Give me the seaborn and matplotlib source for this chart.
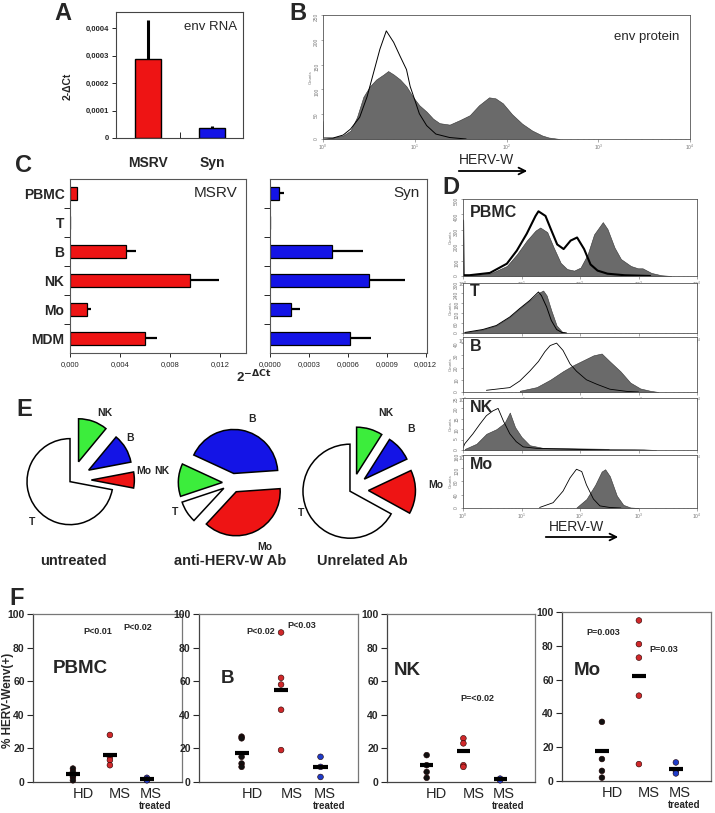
import numpy as np
import pandas as pd
import matplotlib
matplotlib.use("Agg")
import matplotlib.pyplot as plt
import seaborn as sns
from matplotlib.ticker import FixedLocator, FixedFormatter
from matplotlib.patches import FancyArrowPatch

sns.set_style("white")
plt.rcParams['font.family'] = ['Liberation Sans', 'DejaVu Sans']
plt.rcParams['mathtext.fontset'] = 'dejavusans'

W, H = 715, 813

# ---------------- DATA ----------------
# Panel A
A_cats = ["MSRV", "Syn"]
A_vals = [0.00029, 0.000035]
A_err_top = [0.00043, 0.000042]
A_yticks = [0, 0.0001, 0.0002, 0.0003, 0.0004]
A_yticklabels = ["0", "0,0001", "0,0002", "0,0003", "0,0004"]

# Panel B (flow histogram, log10 fluorescence vs counts)
B_fill_log = [0.0, 0.115, 0.22, 0.30, 0.37, 0.44, 0.51, 0.58, 0.66, 0.71, 0.77, 0.84, 0.91, 0.98,
              1.05, 1.13, 1.20, 1.27, 1.38, 1.49, 1.60, 1.70, 1.81, 1.88, 1.96, 2.06, 2.17, 2.28,
              2.39, 2.46, 2.58]
B_fill_cnt = [0, 3, 7, 17, 44, 85, 106, 120, 130, 137, 130, 120, 106, 85,
              68, 55, 41, 32, 29, 38, 48, 68, 84, 82, 72, 50, 31, 17,
              7, 3, 0]
B_open_log = [0.0, 0.005, 0.11, 0.22, 0.30, 0.40, 0.48, 0.55, 0.62, 0.69, 0.77, 0.84, 0.91, 0.95,
              1.0, 1.05, 1.13, 1.23, 1.38, 1.56]
B_open_cnt = [35, 2, 2, 8, 20, 44, 85, 133, 181, 218, 195, 167, 140, 106,
              79, 51, 27, 10, 3, 0]
B_yticks = [0, 50, 100, 150, 200, 250]

# Panel C
C_cats = ["PBMC", "T", "B", "NK", "Mo", "MDM"]
C_msrv = [0.0006, 0.0, 0.0045, 0.00965, 0.0014, 0.006]
C_msrv_err = [0.00066, 0.0, 0.0053, 0.0119, 0.00165, 0.007]
C_syn = [0.00007, 0.0, 0.00048, 0.00076, 0.00016, 0.00062]
C_syn_err = [0.00011, 0.0, 0.00072, 0.00104, 0.00023, 0.00078]
C_msrv_ticks = [0, 0.004, 0.008, 0.012]
C_msrv_ticklabels = ["0,000", "0,004", "0,008", "0,012"]
C_syn_ticks = [0, 0.0003, 0.0006, 0.0009, 0.0012]
C_syn_ticklabels = ["0,0000", "0,0003", "0,0006", "0,0009", "0,0012"]

# Panel D (flow histograms per population)
D_names = ["PBMC", "T", "B", "NK", "Mo"]
D_ymax = [500, 300, 45, 25, 160]
D_yticks = [[0, 100, 200, 300, 400, 500], [0, 60, 120, 180, 240, 300], [0, 10, 20, 30, 40],
            [0, 5, 10, 15, 20, 25], [0, 40, 80, 120, 160]]
D_PBMC_fill_log = [0.0, 0.11, 0.46, 0.75, 0.92, 1.09, 1.24, 1.32, 1.44, 1.55, 1.67, 1.78, 1.90, 2.01,
                   2.13, 2.24, 2.39, 2.47, 2.59, 2.70, 2.87, 2.99, 3.07, 3.22, 3.39, 3.56]
D_PBMC_fill_cnt = [0, 5, 15, 65, 140, 230, 295, 315, 285, 185, 85, 45, 35, 55,
                   140, 270, 350, 305, 185, 110, 65, 50, 50, 20, 5, 0]
D_PBMC_open_log = [0.0, 0.01, 0.11, 0.46, 0.75, 0.92, 1.09, 1.24, 1.29, 1.41, 1.49, 1.61, 1.72, 1.84,
                   1.95, 2.07, 2.18, 2.30, 2.47, 2.76, 3.2]
D_PBMC_open_cnt = [360, 5, 5, 20, 80, 165, 275, 390, 420, 390, 315, 205, 175, 230,
                   250, 175, 75, 35, 15, 5, 0]
D_T_fill_log = [0.03, 0.34, 0.57, 0.80, 0.97, 1.14, 1.29, 1.37, 1.43, 1.51, 1.60, 1.69, 1.77]
D_T_fill_cnt = [3, 21, 45, 96, 147, 195, 240, 255, 225, 135, 45, 9, 0]
D_T_open_log = [0.03, 0.34, 0.57, 0.80, 0.97, 1.14, 1.29, 1.34, 1.43, 1.51, 1.60, 1.69, 1.77]
D_T_open_cnt = [3, 21, 45, 96, 147, 195, 246, 225, 156, 75, 21, 3, 0]
D_B_fill_log = [0.97, 1.26, 1.49, 1.71, 1.89, 2.06, 2.23, 2.37, 2.51, 2.69, 2.86, 3.03, 3.2, 3.34]
D_B_fill_cnt = [1, 4, 10, 17, 22, 26, 30, 31.5, 25, 17, 7.7, 2.9, 1, 0]
D_B_open_log = [0.4, 0.8, 0.97, 1.14, 1.29, 1.4, 1.49, 1.6, 1.71, 1.83, 1.94, 2.11, 2.29, 2.51, 2.8, 3.0]
D_B_open_cnt = [1.4, 3.6, 9, 17, 25, 33, 38, 40, 34, 23, 17, 10, 6.3, 2.3, 0.5, 0]
D_NK_fill_log = [0.03, 0.23, 0.4, 0.57, 0.71, 0.8, 0.89, 1.0, 1.14, 1.37, 1.94, 3.09, 3.3]
D_NK_fill_cnt = [0.5, 3, 7.8, 10, 13, 18, 11, 6.3, 2.3, 1, 0.8, 0.3, 0]
D_NK_open_log = [0.0, 0.03, 0.17, 0.29, 0.4, 0.51, 0.6, 0.69, 0.8, 0.91, 1.03, 1.26, 1.94, 2.5]
D_NK_open_cnt = [1, 3, 7.8, 12.5, 16.5, 18.8, 20, 14, 7.8, 4, 1.5, 0.8, 0.3, 0]
D_Mo_fill_log = [1.94, 2.11, 2.26, 2.37, 2.43, 2.51, 2.63, 2.74, 2.86, 3.0]
D_Mo_fill_cnt = [1.6, 27, 70, 110, 117, 96, 37, 9.6, 1.6, 0]
D_Mo_open_log = [1.31, 1.54, 1.71, 1.83, 1.94, 2.03, 2.11, 2.23, 2.34, 2.51, 2.7]
D_Mo_open_cnt = [1.6, 16, 51, 91, 117, 110, 70, 27, 6.4, 1.6, 0]

# Panel E (pies, % of HERV-W env+ cells)
E_titles = ["untreated", "anti-HERV-W Ab", "Unrelated Ab"]
E1_labels = ["T", "Mo", "B", "NK"]
E1_vals = [72, 6, 11, 11]
E2_labels = ["B", "NK", "T", "Mo"]
E2_vals = [42, 12, 8, 38]
E3_labels = ["T", "Mo", "B", "NK"]
E3_vals = [67, 15, 9, 9]

# Panel F
F_panels = ["PBMC", "B", "NK", "Mo"]
F_groups = ["HD", "MS", "MS treated"]
F_values = {
    "PBMC": {"HD": [8, 6, 4, 3, 1], "MS": [28, 15, 13, 10], "MS treated": [2.5, 1.5, 1]},
    "B": {"HD": [27, 26, 15, 11, 9], "MS": [89, 62, 58, 43, 19], "MS treated": [15, 9, 3]},
    "NK": {"HD": [16, 10, 6, 2.5], "MS": [26, 23, 10, 9], "MS treated": [2, 1]},
    "Mo": {"HD": [35, 13, 6, 2], "MS": [95, 81, 73, 50.5, 10], "MS treated": [11, 6, 4.5]},
}
F_means = {
    "PBMC": [4.5, 16, 2],
    "B": [17.5, 54.5, 9],
    "NK": [10, 18.5, 1.8],
    "Mo": [18, 62, 7.3],
}
F_pvals = {
    "PBMC": ["P<0.01", "P<0.02"],
    "B": ["P<0.02", "P<0.03"],
    "NK": ["P=<0.02"],
    "Mo": ["P=0.003", "P=0.03"],
}
F_yticks = [0, 20, 40, 60, 80, 100]

# ---------------- STYLE ----------------
RED = "#ee1414"
BLUE = "#1414e6"
GREEN = "#3ced3c"
FILL = "#6a6a6a"
PIE_COLORS = {"T": "white", "B": BLUE, "NK": GREEN, "Mo": RED}
F_COLORS = {"HD": "#111111", "MS": "#d0282a", "MS treated": "#1e3cc8"}

fig = plt.figure(figsize=(W / 100, H / 100), dpi=100)


def px_axes(x0, y0, x1, y1):
    return fig.add_axes([x0 / W, 1 - y1 / H, (x1 - x0) / W, (y1 - y0) / H])


def ftext(x, y, s, **kw):
    kw.setdefault("ha", "center")
    kw.setdefault("va", "center")
    fig.text(x / W, 1 - y / H, s, **kw)


def farrow(x0, x1, y):
    fig.add_artist(FancyArrowPatch((x0 / W, 1 - y / H), (x1 / W, 1 - y / H),
                                   transform=fig.transFigure, arrowstyle="->",
                                   mutation_scale=12, lw=1.3, color="black"))


def box(ax, color="#444444", lw=0.8):
    for s in ax.spines.values():
        s.set_visible(True)
        s.set_color(color)
        s.set_linewidth(lw)


# panel letters
for letter, (x, y) in {"A": (63, 14), "B": (298, 13), "C": (24, 165), "D": (451, 187),
                       "E": (24, 409), "F": (17, 598)}.items():
    ftext(x, y, letter, fontsize=17, fontweight="bold")

# ---------------- PANEL A ----------------
axA = px_axes(116, 12, 243, 138)
sns.barplot(x=A_cats, y=A_vals, hue=A_cats, palette=[RED, BLUE], saturation=1, width=0.41,
            edgecolor="black", linewidth=1.0, legend=False, errorbar=None, ax=axA)
axA.vlines([0, 1], A_vals, A_err_top, color="black", lw=2.2)
axA.set_xlim(-0.5, 1.48)
axA.set_ylim(0, 0.00046)
axA.yaxis.set_major_locator(FixedLocator(A_yticks))
axA.yaxis.set_major_formatter(FixedFormatter(A_yticklabels))
axA.tick_params(axis="y", direction="out", length=3, width=0.7, labelsize=5.5, pad=2, left=True)
for t in axA.get_yticklabels():
    t.set_fontweight("bold")
axA.set_xticks([0, 1])
axA.set_xticklabels(A_cats, fontsize=10, fontweight="bold")
axA.tick_params(axis="x", which="major", length=0, pad=13)
axA.set_xticks([0.5], minor=True)
axA.tick_params(axis="x", which="minor", direction="in", length=4, width=0.7, bottom=True)
axA.set_xlabel("")
axA.set_ylabel("")
box(axA)
ftext(68, 86, "2-ΔCt", rotation=90, fontsize=7.5, fontweight="bold")
axA.text(0.95, 0.88, "env RNA", transform=axA.transAxes, ha="right", va="center", fontsize=9.5)

# ---------------- PANEL B ----------------
def flow(ax, fl, fc, ol, oc, ymax, yticks, open_lw=0.7, label=None):
    fx = 10.0 ** np.array(fl)
    ox = 10.0 ** np.array(ol)
    ax.fill_between(fx, fc, 0, color=FILL, lw=0.4, edgecolor="#333333")
    ax.plot(ox, oc, color="black", lw=open_lw)
    ax.set_xscale("log")
    ax.set_xlim(1, 1e4)
    ax.set_ylim(0, ymax)
    ax.yaxis.set_major_locator(FixedLocator(yticks))
    ax.tick_params(axis="both", which="major", direction="out", length=1.8, width=0.4,
                   labelsize=3.5, labelcolor="#777777", color="#666666", pad=1,
                   left=True, bottom=True)
    ax.tick_params(axis="both", which="minor", direction="out", length=1, width=0.3,
                   color="#777777", bottom=True)
    ax.tick_params(axis="y", labelrotation=90)
    ax.set_ylabel("Counts", fontsize=3.2, color="#777777", labelpad=1)
    box(ax, "#555555", 0.6)
    if label:
        ax.text(0.03, 0.82, label, transform=ax.transAxes, fontsize=11.5, fontweight="bold",
                ha="left", va="center")


axB = px_axes(323, 15, 690, 139)
flow(axB, B_fill_log, B_fill_cnt, B_open_log, B_open_cnt, 250, B_yticks, open_lw=0.7)
axB.text(0.97, 0.82, "env protein", transform=axB.transAxes, ha="right", va="center", fontsize=9.5)
ftext(487, 160, "HERV-W", fontsize=10)
farrow(456, 530, 171)

# ---------------- PANEL C ----------------
axC1 = px_axes(70, 179, 246, 353)
sns.barplot(x=C_msrv, y=C_cats, color=RED, saturation=1, orient="h", width=0.42,
            edgecolor="black", linewidth=0.9, errorbar=None, ax=axC1)
axC1.hlines(range(len(C_cats)), C_msrv, C_msrv_err, color="black", lw=1.6)
axC2 = px_axes(270, 179, 427, 353)
sns.barplot(x=C_syn, y=C_cats, color=BLUE, saturation=1, orient="h", width=0.42,
            edgecolor="black", linewidth=0.9, errorbar=None, ax=axC2)
axC2.hlines(range(len(C_cats)), C_syn, C_syn_err, color="black", lw=1.6)
for ax, ticks, labels, xmax, name in [(axC1, C_msrv_ticks, C_msrv_ticklabels, 0.0141, "MSRV"),
                                      (axC2, C_syn_ticks, C_syn_ticklabels, 0.00121, "Syn")]:
    ax.set_xlim(0, xmax)
    ax.set_ylim(len(C_cats) - 0.5, -0.5)
    ax.xaxis.set_major_locator(FixedLocator(ticks))
    ax.xaxis.set_major_formatter(FixedFormatter(labels))
    ax.tick_params(axis="x", direction="out", length=3, width=0.7, labelsize=5.5, pad=3, bottom=True)
    ax.set_yticks(range(len(C_cats)))
    ax.set_yticks([i + 0.5 for i in range(len(C_cats) - 1)], minor=True)
    ax.tick_params(axis="y", which="major", length=0, pad=4)
    ax.tick_params(axis="y", which="minor", direction="out", length=4, width=0.7, left=True)
    ax.set_xlabel("")
    ax.set_ylabel("")
    box(ax, "#555555", 0.8)
    ax.text(0.95, 0.92, name, transform=ax.transAxes, ha="right", va="center", fontsize=11)
axC1.set_yticklabels(C_cats, fontsize=10, fontweight="bold")
axC2.set_yticklabels([])
ftext(254, 377, r"2$^{\mathbf{-ΔCt}}$", fontsize=9.5, fontweight="bold")

# ---------------- PANEL D ----------------
D_boxes = [(463, 199, 697, 276), (463, 283, 697, 333), (463, 337, 697, 392),
           (463, 398, 697, 450), (463, 455, 697, 508)]
D_series = [(D_PBMC_fill_log, D_PBMC_fill_cnt, D_PBMC_open_log, D_PBMC_open_cnt, 1.5),
            (D_T_fill_log, D_T_fill_cnt, D_T_open_log, D_T_open_cnt, 0.7),
            (D_B_fill_log, D_B_fill_cnt, D_B_open_log, D_B_open_cnt, 0.6),
            (D_NK_fill_log, D_NK_fill_cnt, D_NK_open_log, D_NK_open_cnt, 0.6),
            (D_Mo_fill_log, D_Mo_fill_cnt, D_Mo_open_log, D_Mo_open_cnt, 0.6)]
for bx, name, ymax, yt, ser in zip(D_boxes, D_names, D_ymax, D_yticks, D_series):
    ax = px_axes(*bx)
    flow(ax, ser[0], ser[1], ser[2], ser[3], ymax, yt, open_lw=ser[4], label=name)
ftext(577, 527, "HERV-W", fontsize=10)
farrow(543, 621, 537)

# ---------------- PANEL E ----------------
def pie(cx, cy, r, labels, vals, explode, start):
    S = 180
    ax = px_axes(cx - S / 2, cy - S / 2, cx + S / 2, cy + S / 2)
    ax.pie(vals, colors=[PIE_COLORS[l] for l in labels], explode=explode, startangle=start,
           counterclock=True, wedgeprops=dict(edgecolor="black", linewidth=1.1))
    L = S / 2 / r
    ax.set_xlim(-L, L)
    ax.set_ylim(-L, L)
    ax.set_aspect("equal")
    ax.axis("off")


pie(72, 480, 43, E1_labels, E1_vals, [0.06, 0.45, 0.45, 0.45], 90)
pie(232, 483, 44, E2_labels, E2_vals, [0.22, 0.22, 0.22, 0.22], 4)
pie(352, 490, 47, E3_labels, E3_vals, [0.05, 0.35, 0.35, 0.35], 90)

pie_lab = {"1NK": (105, 413), "1B": (130, 438), "1Mo": (144, 471), "1T": (32, 522),
           "2B": (252, 419), "2NK": (162, 471), "2T": (175, 512), "2Mo": (265, 547),
           "3NK": (386, 413), "3B": (411, 429), "3T": (301, 513), "3Mo": (436, 485)}
for k, (x, y) in pie_lab.items():
    ftext(x, y, k[1:], fontsize=7.5, fontweight="bold")
for t, x in zip(E_titles, [73, 230, 362]):
    ftext(x, 561, t, fontsize=10.5, fontweight="bold")

# ---------------- PANEL F ----------------
rows = []
for p in F_panels:
    for gi, g in enumerate(F_groups):
        for v in F_values[p][g]:
            rows.append({"panel": p, "group": g, "pos": gi, "value": v})
dfF = pd.DataFrame(rows)

F_boxes = {"PBMC": (33, 614, 182, 782), "B": (199, 614, 358, 782),
           "NK": (387, 614, 535, 782), "Mo": (562, 612, 711, 781)}
F_name_pos = {"PBMC": (80, 668), "B": (227, 678), "NK": (407, 670), "Mo": (587, 670)}
F_p_pos = {"PBMC": [(98, 631), (138, 627)], "B": [(261, 631), (302, 625)],
           "NK": [(477, 698)], "Mo": [(603, 632), (664, 649)]}
for p in F_panels:
    ax = px_axes(*F_boxes[p])
    d = dfF[dfF.panel == p]
    sns.scatterplot(data=d, x="pos", y="value", hue="group", palette=F_COLORS, s=17,
                    edgecolor="#220000", linewidth=0.4, legend=False, clip_on=False,
                    zorder=3, ax=ax)
    ax.hlines(F_means[p], [i - 0.18 for i in range(3)], [i + 0.18 for i in range(3)],
              color="black", lw=3, zorder=4)
    ax.set_xlim(-1.08, 2.95)
    ax.set_ylim(0, 100)
    ax.yaxis.set_major_locator(FixedLocator(F_yticks))
    ax.tick_params(axis="y", direction="out", length=4, width=0.8, labelsize=7.5, pad=2, left=True)
    for t in ax.get_yticklabels():
        t.set_fontweight("bold")
    ax.set_xticks([])
    ax.set_xlabel("")
    ax.set_ylabel("")
    box(ax, "#777777", 0.9)
    ax.spines["left"].set_color("#444444")
    ax.spines["bottom"].set_color("#444444")
    tr = ax.get_xaxis_transform()
    ax.text(0.27, -0.07, "HD", transform=tr, ha="center", va="center", fontsize=10.5)
    ax.text(1.27, -0.07, "MS", transform=tr, ha="center", va="center", fontsize=10.5)
    ax.text(2.1, -0.07, "MS", transform=tr, ha="center", va="center", fontsize=10.5)
    ax.text(2.22, -0.14, "treated", transform=tr, ha="center", va="center", fontsize=7,
            fontweight="bold")
    nx, ny = F_name_pos[p]
    ftext(nx, ny, p, fontsize=13.5, fontweight="bold")
    for s, (x, y) in zip(F_pvals[p], F_p_pos[p]):
        ftext(x, y, s, fontsize=6.5, fontweight="bold")

ftext(8, 700, "% HERV-Wenv(+)", rotation=90, fontsize=8.5, fontweight="bold")

fig.savefig("out.png", dpi=100)
